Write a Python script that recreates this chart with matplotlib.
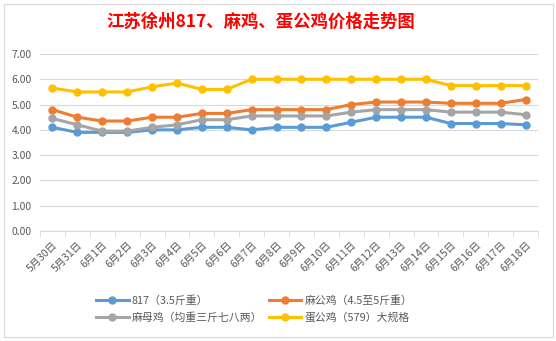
import matplotlib
matplotlib.use("Agg")
import matplotlib.pyplot as plt
from matplotlib.patches import Rectangle

plt.rcParams['font.family'] = ['Noto Sans CJK SC', 'DejaVu Sans']

dates = ["5月30日", "5月31日", "6月1日", "6月2日", "6月3日", "6月4日", "6月5日", "6月6日",
         "6月7日", "6月8日", "6月9日", "6月10日", "6月11日", "6月12日", "6月13日", "6月14日",
         "6月15日", "6月16日", "6月17日", "6月18日"]
s817 = [4.1, 3.9, 3.9, 3.9, 4.0, 4.0, 4.1, 4.1, 4.0, 4.1, 4.1, 4.1, 4.3, 4.5, 4.5, 4.5,
        4.25, 4.25, 4.25, 4.2]
ma_gong = [4.8, 4.5, 4.35, 4.35, 4.5, 4.5, 4.65, 4.65, 4.8, 4.8, 4.8, 4.8, 5.0, 5.1, 5.1, 5.1,
           5.05, 5.05, 5.05, 5.2]
ma_mu = [4.45, 4.2, 3.95, 3.95, 4.1, 4.2, 4.4, 4.4, 4.55, 4.55, 4.55, 4.55, 4.7, 4.8, 4.8, 4.8,
         4.7, 4.7, 4.7, 4.6]
dan_gong = [5.65, 5.5, 5.5, 5.5, 5.7, 5.85, 5.6, 5.6, 6.0, 6.0, 6.0, 6.0, 6.0, 6.0, 6.0, 6.0,
            5.75, 5.75, 5.75, 5.75]
series_names = ["817（3.5斤重）", "麻公鸡（4.5至5斤重）", "麻母鸡（均重三斤七八两）", "蛋公鸡（579）大规格"]
colors = ["#5B9BD5", "#ED7D31", "#A5A5A5", "#FFC000"]
title = "江苏徐州817、麻鸡、蛋公鸡价格走势图"

fig = plt.figure(figsize=(5.56, 3.41), dpi=100)
fig.patch.set_facecolor("white")
fig.patches.append(Rectangle((4/556, 4/341), 549/556, 333/341, transform=fig.transFigure,
                             fill=False, edgecolor="#D9D9D9", linewidth=0.8))

ax = fig.add_axes([40/556, 1-231/341, 498/556, (231-54)/341])
x = list(range(len(dates)))
lines = []
for vals, c, n in zip([s817, ma_gong, ma_mu, dan_gong], colors, series_names):
    l, = ax.plot(x, vals, color=c, linewidth=2.2, marker="o", markersize=5, label=n)
    lines.append(l)

ax.set_ylim(0, 7)
ax.set_yticks([0, 1, 2, 3, 4, 5, 6, 7])
ax.set_yticklabels([f"{v:.2f}" for v in range(8)])
ax.set_xlim(-0.5, len(dates) - 0.5)
ax.set_xticks(x)
ax.set_xticklabels(dates, rotation=45, ha="right", va="top", rotation_mode="anchor")
ax.set_xticks([i - 0.5 for i in range(len(dates) + 1)], minor=True)
ax.tick_params(axis="x", which="major", length=0, pad=6, labelsize=7.5, colors="#595959")
ax.tick_params(axis="x", which="minor", length=4, color="#D9D9D9")
ax.tick_params(axis="y", length=0, labelsize=7.5, colors="#595959", pad=6)
ax.grid(axis="y", color="#D9D9D9", linewidth=0.8)
ax.set_axisbelow(True)
for s in ["left", "right", "top"]:
    ax.spines[s].set_visible(False)
ax.spines["bottom"].set_color("#D9D9D9")

fig.text(0.5 - 17/556, 1-22/341, title, ha="center", va="center", color="red",
         fontsize=12.5, fontweight="bold")

order = [0, 2, 1, 3]
fig.legend(handles=[lines[i] for i in order], loc="center left",
           bbox_to_anchor=(96/556, 1-309/341), ncol=2, borderpad=0, borderaxespad=0,
           frameon=False, fontsize=7.8, labelcolor="#595959", handlelength=3.0,
           columnspacing=0.6, handletextpad=0.3, labelspacing=0.6)

fig.savefig("out.png", dpi=100)
